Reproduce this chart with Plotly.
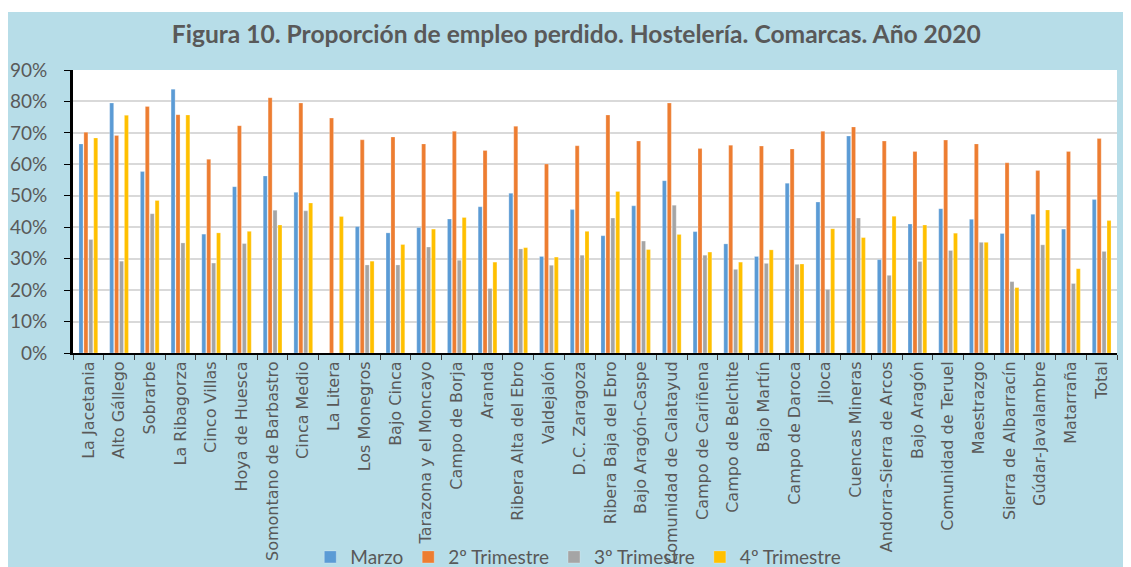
import plotly.graph_objects as go

comarcas = ["La Jacetania", "Alto Gállego", "Sobrarbe", "La Ribagorza", "Cinco Villas",
            "Hoya de Huesca", "Somontano de Barbastro", "Cinca Medio", "La Litera",
            "Los Monegros", "Bajo Cinca", "Tarazona y el Moncayo", "Campo de Borja",
            "Aranda", "Ribera Alta del Ebro", "Valdejalón", "D.C. Zaragoza",
            "Ribera Baja del Ebro", "Bajo Aragón-Caspe", "Comunidad de Calatayud",
            "Campo de Cariñena", "Campo de Belchite", "Bajo Martín", "Campo de Daroca",
            "Jiloca", "Cuencas Mineras", "Andorra-Sierra de Arcos", "Bajo Aragón",
            "Comunidad de Teruel", "Maestrazgo", "Sierra de Albarracín",
            "Gúdar-Javalambre", "Matarraña", "Total"]

marzo = [66.5, 79.5, 57.7, 83.9, 37.8, 52.9, 56.3, 51.1, -0.7, 40.2, 38.2, 39.9, 42.6,
         46.5, 50.8, 30.7, 45.6, 37.3, 46.8, 54.8, 38.6, 34.7, 30.7, 54.0, 48.0, 69.0,
         29.7, 41.0, 45.9, 42.5, 38.0, 44.1, 39.4, 48.8]
trim2 = [70.2, 69.2, 78.4, 75.8, 61.6, 72.3, 81.2, 79.5, 74.7, 67.8, 68.7, 66.5, 70.5,
         64.4, 72.1, 60.1, 65.9, 75.7, 67.4, 79.5, 65.0, 66.1, 65.8, 64.9, 70.5, 71.9,
         67.4, 64.1, 67.7, 66.5, 60.5, 58.0, 64.1, 68.2]
trim3 = [36.1, 29.2, 44.3, 35.0, 28.6, 34.8, 45.4, 45.2, -0.7, 28.0, 28.0, 33.7, 29.5,
         20.5, 33.1, 27.9, 31.1, 42.9, 35.6, 47.0, 31.1, 26.6, 28.5, 28.2, 20.2, 42.9,
         24.7, 29.1, 32.6, 35.2, 22.7, 34.4, 22.1, 32.3]
trim4 = [68.4, 75.6, 48.5, 75.7, 38.2, 38.7, 40.7, 47.7, 43.4, 29.2, 34.5, 39.4, 43.1,
         28.9, 33.5, 30.5, 38.7, 51.4, 32.9, 37.7, 32.1, 28.9, 32.8, 28.3, 39.5, 36.7,
         43.5, 40.7, 38.1, 35.2, 20.8, 45.5, 26.8, 42.1]

series = [("Marzo", marzo, "#5B9BD5"), ("2º Trimestre", trim2, "#ED7D31"),
          ("3º Trimestre", trim3, "#A5A5A5"), ("4º Trimestre", trim4, "#FFC000")]

yticks = [0, 10, 20, 30, 40, 50, 60, 70, 80, 90]
ytick_labels = [f"{v}%" for v in yticks]

fig = go.Figure()
for name, vals, col in series:
    fig.add_trace(go.Bar(x=comarcas, y=vals, name=name, marker_color=col,
                         marker_line=dict(color="rgba(255,255,255,0.5)", width=0.5),
                         cliponaxis=False))

# thin white strip along the top edge
fig.add_shape(type="rect", xref="paper", yref="paper", x0=-0.1, x1=1.1,
              y0=1.205, y1=1.25, fillcolor="white", line_width=0, layer="above")

fig.update_layout(
    width=1123, height=559,
    paper_bgcolor="#B7DDE8", plot_bgcolor="white",
    margin=dict(l=65, r=14, t=62, b=214, autoexpand=False),
    barmode="group", bargap=0.36, bargroupgap=0.18,
    title=dict(text="<b>Figura 10. Proporción de empleo perdido. Hostelería. Comarcas. Año 2020</b>",
               x=0.506, xanchor="center", y=0.952, yanchor="middle",
               font=dict(family="Lato", size=24.6, color="#595959")),
    font=dict(family="Lato", color="#595959"),
    legend=dict(orientation="h", x=0.484, xanchor="center", y=-0.721, yanchor="middle",
                font=dict(family="Lato", size=19, color="#595959"),
                bgcolor="rgba(0,0,0,0)", itemwidth=30, tracegroupgap=0),
    xaxis=dict(tickangle=-90, tickfont=dict(family="DejaVu Sans", size=16, color="#595959"),
               showline=True, linecolor="black", linewidth=2, ticks="outside",
               tickson="boundaries", tickcolor="#404040", ticklen=5, showgrid=False,
               layer="below traces"),
    yaxis=dict(range=[0, 90], tickvals=yticks, ticktext=ytick_labels,
               tickfont=dict(family="Lato", size=19, color="#595959"),
               showline=True, linecolor="black", linewidth=3, ticks="outside",
               tickcolor="black", ticklen=6, ticklabelstandoff=13,
               gridcolor="#D9D9D9", gridwidth=2, zeroline=False),
)

fig.write_html("out.html")
